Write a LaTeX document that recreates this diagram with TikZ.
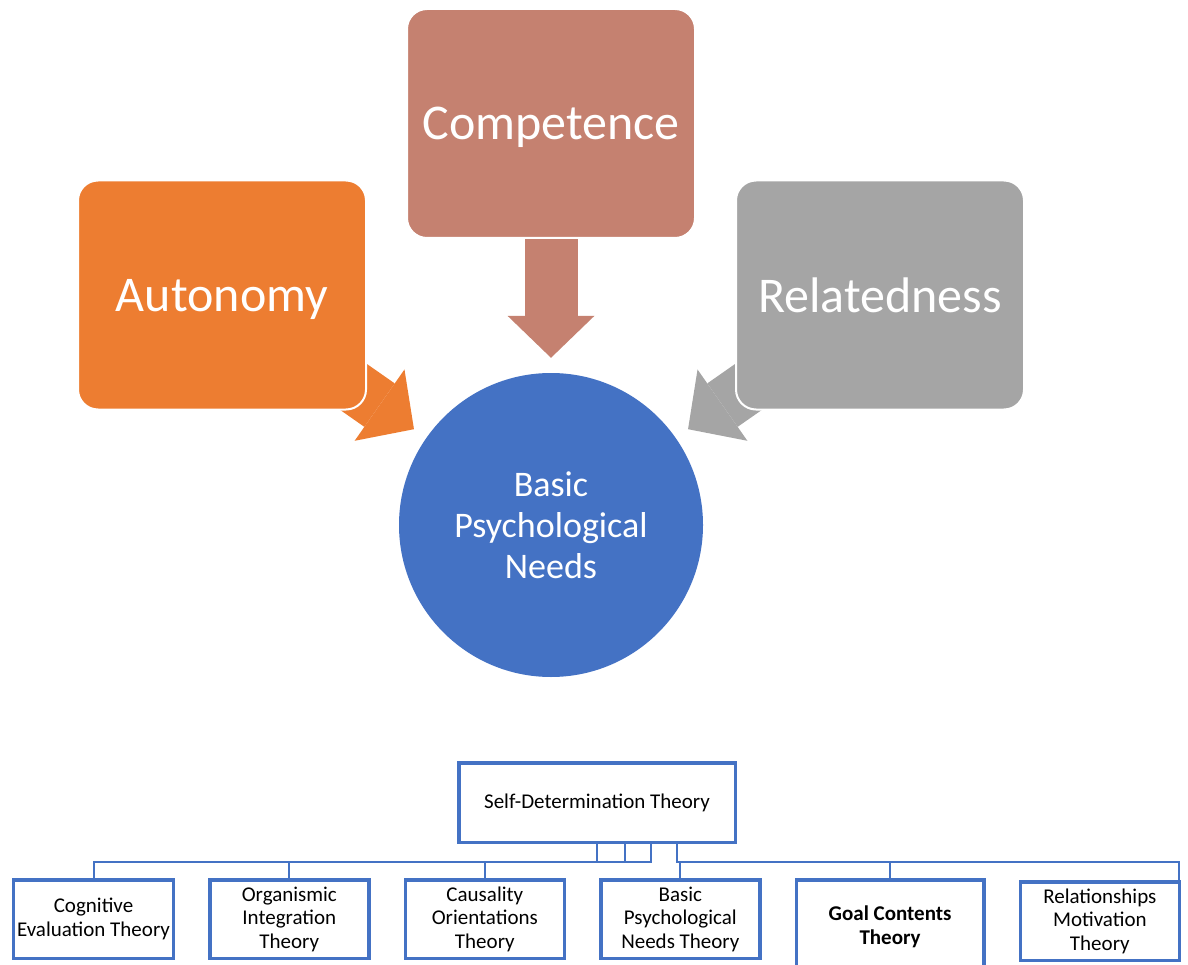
\documentclass[tikz,border=0pt]{standalone}
\usepackage{fontspec}
\setmainfont{Carlito}
\usepackage{tikz}
\usetikzlibrary{positioning,arrows.meta,backgrounds}
\definecolor{sdtblue}{RGB}{68,114,196}
\definecolor{autorange}{RGB}{237,125,49}
\definecolor{comprose}{RGB}{197,129,112}
\definecolor{relgray}{RGB}{165,165,165}
\tikzstyle{need} = [rectangle, rounded corners=20pt, draw=white, line width=2pt, text=white,
    minimum width=288pt, minimum height=229pt, text depth=0pt, font=\fontsize{50}{60}\selectfont]
\tikzstyle{core} = [circle, fill=sdtblue, text=white, minimum size=304pt, align=center,
    font=\fontsize{36}{41}\selectfont]
\tikzstyle{bigarrow} = [line width=53pt, -{Triangle[length=42pt, width=87pt, line width=0pt]},
    shorten >=15pt]
\tikzstyle{theory} = [rectangle, draw=sdtblue, line width=3.5pt, align=center,
    minimum width=159pt, minimum height=78.5pt, font=\fontsize{21}{23.5}\selectfont]
\tikzstyle{line} = [draw=sdtblue, line width=2pt]

\begin{document}
\begin{tikzpicture}[x=1pt, y=-1pt, node distance=33pt]
      \useasboundingbox (0,0) rectangle (1188,965);
      % needs
      \node [need, fill=comprose] (comp) at (551,123.5) {Competence};
      \node [need, fill=autorange] (auto) at (222,295) {Autonomy};
      \node [need, fill=relgray] (rel) at (880,295) {Relatedness};
      \node [core] (needs) at (551,525) {Basic\\Psychological\\Needs};
      % block arrows
      \begin{scope}[on background layer]
        \path [bigarrow, draw=autorange] (auto.center) -- (needs);
        \path [bigarrow, draw=comprose] (comp.center) -- (needs);
        \path [bigarrow, draw=relgray] (rel.center) -- (needs);
      \end{scope}
      % theories
      \node [theory, minimum width=276.5pt, minimum height=79.5pt] (sdt) at (597,802.5) {Self-Determination Theory};
      \node [theory] (cet) at (93.5,919) {Cognitive\\Evaluation Theory};
      \node [theory, right=of cet.north east, anchor=north west] (oit) {Organismic\\Integration\\Theory};
      \node [theory, right=of oit.north east, anchor=north west] (cot) {Causality\\Orientations\\Theory};
      \node [theory, right=of cot.north east, anchor=north west] (bpnt) {Basic\\Psychological\\Needs Theory};
      \node [theory, right=of bpnt.north east, anchor=north west, minimum width=187.5pt, minimum height=94pt,
          font=\fontsize{21}{24.5}\selectfont\bfseries] (gct) {Goal Contents\\Theory};
      \node [theory, right=of gct.north east, anchor=north west, yshift=-2pt] (rmt) {Relationships\\Motivation\\Theory};
      % Draw edges
      \coordinate (bus) at (0,862);
      \path [line] (sdt.south) -- (sdt.south |- bus) -| (cet.north);
      \path [line] ([xshift=28pt]sdt.south) -- ([xshift=28pt]sdt.south |- bus) -| (oit.north);
      \path [line] ([xshift=54pt]sdt.south) -- ([xshift=54pt]sdt.south |- bus) -| (cot.north);
      \path [line] ([xshift=80pt]sdt.south) -- ([xshift=80pt]sdt.south |- bus) -| (bpnt.north);
      \path [line] ([xshift=80pt]sdt.south |- bus) -| (gct.north);
      \path [line] ([xshift=80pt]sdt.south |- bus) -| ([xshift=-1.75pt]rmt.north east);
\end{tikzpicture}
\end{document}
